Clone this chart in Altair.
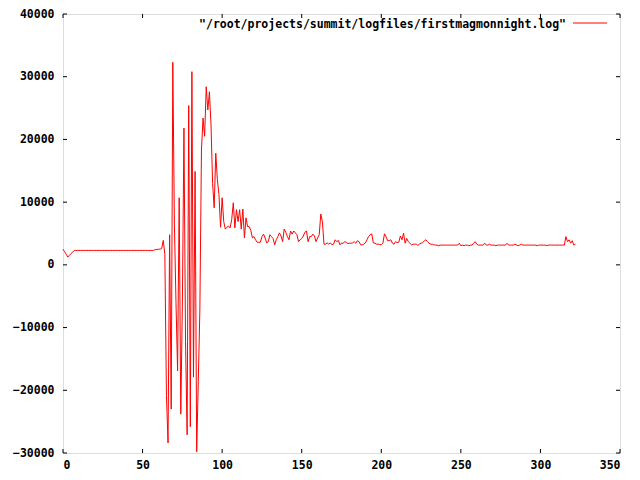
import altair as alt
import pandas as pd

# Series values (one per sample, sample index 0..323)
start_vals = [2500, 2100, 1700, 1250, 1500, 1800, 2000, 2300]
flat_vals = [2300, 2300, 2300, 2300, 2300, 2300, 2300, 2300, 2300, 2300,
             2300, 2300, 2300, 2300, 2300, 2300, 2300, 2300, 2300, 2300,
             2300, 2300, 2300, 2300, 2300, 2300, 2300, 2300, 2300, 2300,
             2300, 2300, 2300, 2300, 2300, 2300, 2300, 2300, 2300, 2300,
             2300, 2300, 2300, 2300, 2300, 2300, 2300, 2300, 2300, 2300]
burst_vals = [2450, 2450, 2500, 2500, 2600, 3900, 1700,
              -20800, -28400, 4800, -23000, 32300, 6500, -6000, -16900, 10700, -23800,
              -6600, 21800, -12200, -27100, 25400, -25800, 30800, -17900, 14900, -29800,
              -18600, -7200, 18300, 23400, 20500, 28400, 24700, 27600, 22300, 13000,
              9100, 17800, 13600, 11200, 6000, 10700]
decay_vals = [6900, 5700, 6000, 6200, 5900, 7200, 9900, 5900, 8800, 6900,
              8800, 5700, 8900, 4300, 7500, 6100, 6100, 5500, 4300, 4500,
              4000, 3600, 3600, 3600, 4500, 4900, 4300, 3500, 3700, 4800,
              4500, 4200, 3200, 4000, 4500, 5100, 4600, 3700, 5700, 5200,
              4500, 4000, 5400, 4900, 5400, 5100, 4800, 3700, 4000, 4200,
              4600, 5200, 5400, 3700, 4500, 4500, 4900, 4600, 3700, 4300,
              4800, 8100, 6900]
tail_vals = [3300, 3300, 3500, 3300, 3500, 3200, 3300, 4000, 3700, 3900,
             3200, 3500, 3400, 3700, 3600, 3400, 3450, 3450, 3500, 3700,
             3450, 3850, 3700, 3200, 3200, 3300, 3500, 4000, 4500, 4800,
             4950, 3500, 3450, 3300, 3300, 3250, 3200, 3450, 4950, 4500,
             3850, 3850, 4000, 3450, 3300, 3700, 3550, 3600, 4600, 4000,
             5050, 3450, 4200, 3700, 3450, 3200, 3300, 3300, 3300, 3100,
             3300, 3450, 3550, 3800, 4000, 3700, 3450, 3300, 3300, 3200,
             3150, 3150, 3050, 3150, 3150, 3150, 3150, 3150, 3150, 3150,
             3150, 3150, 3150, 3150, 3150, 3450, 3050, 3150, 3050, 3150,
             3150, 3050, 3150, 3150, 3450, 3700, 3300, 3150, 3150, 3150,
             3150, 3450, 3150, 3150, 3300, 3150, 3150, 3150, 3050, 3150,
             3150, 3150, 3150, 3150, 3150, 3450, 3150, 3150, 3150, 3150,
             3300, 3150, 3050, 3150, 3300, 3150, 3150, 3150, 3150, 3150,
             3150, 3150, 3150, 3150, 3050, 3150, 3150, 3150, 3150, 3150,
             3050, 3150, 3150, 3150, 3150, 3150, 3150, 3150, 3150, 3150,
             3150, 3150, 4500, 3700, 4000, 3450, 3850, 3150, 3300]

values = start_vals + flat_vals + burst_vals + decay_vals + tail_vals
samples = list(range(len(values)))

x_ticks = [0, 50, 100, 150, 200, 250, 300, 350]
y_ticks = [-30000, -20000, -10000, 0, 10000, 20000, 30000, 40000]
legend_label = '"/root/projects/summit/logfiles/firstmagmonnight.log"'

W, H = 557, 439
FONT = "DejaVu Sans Mono"

df = pd.DataFrame({"x": samples, "y": values})
xt = pd.DataFrame({"x": x_ticks})
yt = pd.DataFrame({"y": y_ticks})

xscale = alt.Scale(domain=[0, 350], nice=False, zero=False)
yscale = alt.Scale(domain=[-30000, 40000], nice=False, zero=False)

axis_common = dict(ticks=False, domain=False, grid=False, labelFont=FONT,
                   labelFontWeight="bold", labelFontSize=11.5, labelColor="black",
                   title=None)

line = alt.Chart(df).mark_line(color="#ff0000", strokeWidth=1, interpolate="linear").encode(
    x=alt.X("x:Q", scale=xscale,
            axis=alt.Axis(values=x_ticks, format="d", labelPadding=6, **axis_common)),
    y=alt.Y("y:Q", scale=yscale,
            axis=alt.Axis(values=y_ticks, format="d", labelPadding=9, **axis_common)),
)

tick_len = 4
xb = alt.Chart(xt).mark_rule(color="black", strokeWidth=1).encode(
    x=alt.X("x:Q", scale=xscale), y=alt.value(H), y2=alt.value(H - tick_len))
xtop = alt.Chart(xt).mark_rule(color="black", strokeWidth=1).encode(
    x=alt.X("x:Q", scale=xscale), y=alt.value(0), y2=alt.value(tick_len))
yl = alt.Chart(yt).mark_rule(color="black", strokeWidth=1).encode(
    y=alt.Y("y:Q", scale=yscale), x=alt.value(0), x2=alt.value(tick_len))
yr = alt.Chart(yt).mark_rule(color="black", strokeWidth=1).encode(
    y=alt.Y("y:Q", scale=yscale), x=alt.value(W), x2=alt.value(W - tick_len))

leg_df = pd.DataFrame({"label": [legend_label]})
leg_text = alt.Chart(leg_df).mark_text(
    font=FONT, fontWeight="bold", fontSize=11.5, align="right", baseline="middle",
    color="black").encode(text="label:N", x=alt.value(503), y=alt.value(11))
leg_line = alt.Chart(leg_df).mark_rule(color="#ff0000", strokeWidth=1).encode(
    x=alt.value(510), x2=alt.value(544), y=alt.value(9))

chart = alt.layer(line, xb, xtop, yl, yr, leg_text, leg_line).properties(
    width=W, height=H,
    autosize=alt.AutoSizeParams(type="none"),
    padding={"left": 55, "top": 6, "right": 10, "bottom": 20},
).configure_view(stroke="black", strokeWidth=1).configure(background="white")

chart.save("out.html", embed_options={"renderer": "svg", "actions": False})
